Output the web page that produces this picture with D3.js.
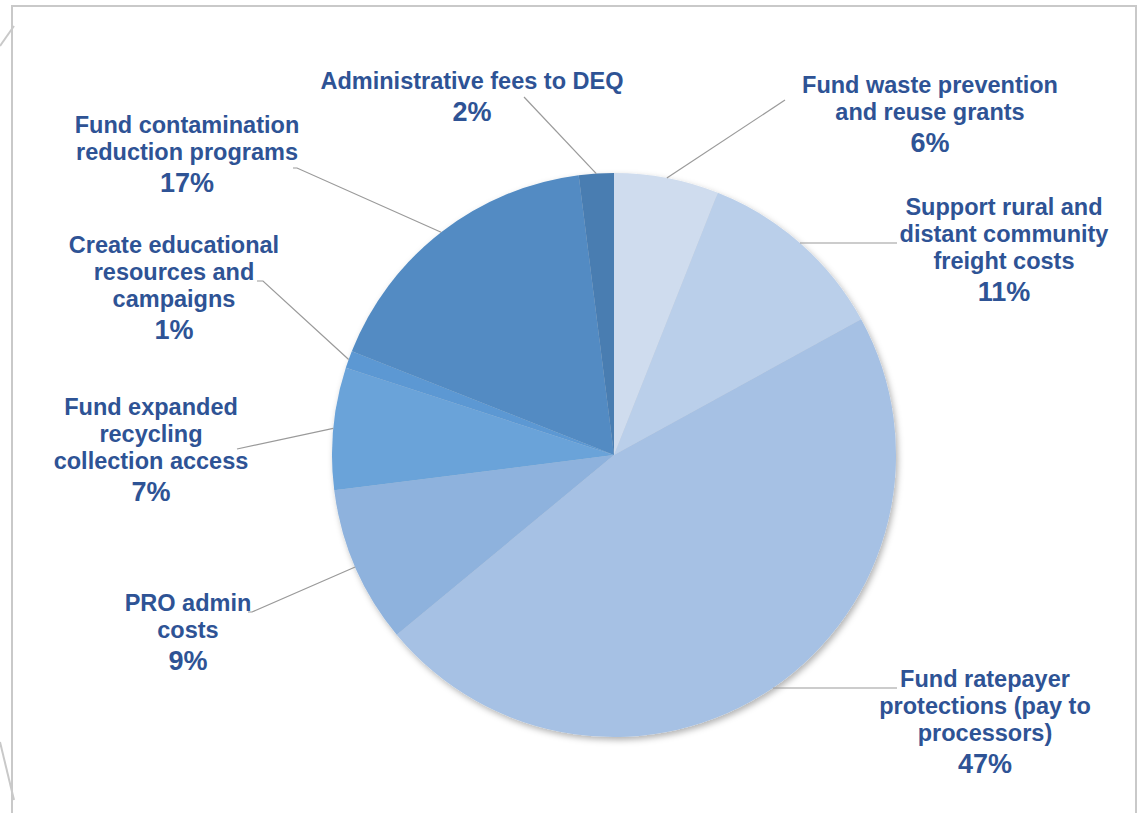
<!DOCTYPE html>
<html>
<head>
<meta charset="utf-8">
<script src="https://cdn.jsdelivr.net/npm/d3@7"></script>
<style>
  html, body { margin: 0; padding: 0; background: #ffffff; }
  #svg-container { width: 1138px; height: 813px; }
  text { font-family: "Liberation Sans", Arial, sans-serif; font-weight: bold; }
</style>
</head>
<body>
<div id="svg-container"></div>
<script>
////////////////////////////////////////////////////////////////////
////////////////////////////  Data  ////////////////////////////////

const categories = [
  "Fund waste prevention and reuse grants",
  "Support rural and distant community freight costs",
  "Fund ratepayer protections (pay to processors)",
  "PRO admin costs",
  "Fund expanded recycling collection access",
  "Create educational resources and campaigns",
  "Fund contamination reduction programs",
  "Administrative fees to DEQ",
];
const values = [6, 11, 47, 9, 7, 1, 17, 2];

// label lines as they are broken on the chart
const labelLines = [
  ["Fund waste prevention", "and reuse grants"],
  ["Support rural and", "distant community", "freight costs"],
  ["Fund ratepayer", "protections (pay to", "processors)"],
  ["PRO admin", "costs"],
  ["Fund expanded", "recycling", "collection access"],
  ["Create educational", "resources and", "campaigns"],
  ["Fund contamination", "reduction programs"],
  ["Administrative fees to DEQ"],
];

const colors = ["#cfdcee", "#bacfea", "#a6c1e4", "#8eb2dd", "#6ba3d9", "#5b98d3", "#528bc3", "#4a7db1"];

////////////////////////////////////////////////////////////////////
////////////////////////////  Layout  //////////////////////////////

const width = 1138;
const height = 813;
const cx = 614, cy = 455, radius = 282;
const textColor = "#2e5395";
const lineH = 27;

// label position: text center x, first baseline y, leader end [x,y], optional angle of leader start
const labelLayout = [
  { x: 930, y: 93, end: [785, 100] },
  { x: 1004, y: 215, end: [897, 243], startY: 243 },
  { x: 985, y: 687, end: [897, 688], startY: 688 },
  { x: 188, y: 611, end: [252, 612], tick: -4 },
  { x: 151, y: 415, end: [237, 449] },
  { x: 174, y: 253, end: [263, 281], tick: -6 },
  { x: 187, y: 133, end: [297, 168], tick: -4 },
  { x: 472, y: 89, end: [524, 97] },
];

////////////////////////////////////////////////////////////////////
////////////////////////////  Init  ////////////////////////////////

const svg = d3
  .select("#svg-container")
  .append("svg")
  .attr("width", width)
  .attr("height", height);

// shadow under the pie
const defs = svg.append("defs");
defs
  .append("filter")
  .attr("id", "shadow")
  .attr("x", "-10%")
  .attr("y", "-10%")
  .attr("width", "120%")
  .attr("height", "120%")
  .append("feDropShadow")
  .attr("dx", 2)
  .attr("dy", 3)
  .attr("stdDeviation", 3)
  .attr("flood-color", "#000")
  .attr("flood-opacity", 0.3);

// slide frame fragments
const frame = svg.append("g").attr("stroke", "#c9c9c9").attr("stroke-width", 2).attr("fill", "none");
frame.append("path").attr("d", "M12,813 L12,6 L1136,6 L1136,813");
frame.append("line").attr("x1", 14).attr("y1", 26).attr("x2", 0).attr("y2", 46);
frame.append("line").attr("x1", 0).attr("y1", 742).attr("x2", 14).attr("y2", 800);

// pie
const pie = d3.pie().sort(null).value((d) => d);
const arcs = pie(values);

const arc = d3.arc().innerRadius(0).outerRadius(radius);

const g = svg.append("g").attr("transform", `translate(${cx}, ${cy})`);

// leader lines (drawn below the pie)
const leaders = svg.append("g").attr("stroke", "#9a9a9a").attr("stroke-width", 1.2).attr("fill", "none");

arcs.forEach((a, i) => {
  const lay = labelLayout[i];
  let ang = (a.startAngle + a.endAngle) / 2;
  let sx = cx + radius * Math.sin(ang);
  let sy = cy - radius * Math.cos(ang);
  if (lay.startY !== undefined) {
    // point on the rim at the given height, on the slice side
    const dy = lay.startY - cy;
    const dx = Math.sqrt(radius * radius - dy * dy);
    sx = cx + (Math.sin(ang) >= 0 ? dx : -dx);
    sy = lay.startY;
  }
  let d = `M${sx},${sy} L${lay.end[0]},${lay.end[1]}`;
  if (lay.tick) d += ` l${lay.tick},0`;
  leaders.append("path").attr("d", d);
});

g.append("g")
  .attr("filter", "url(#shadow)")
  .selectAll("path")
  .data(arcs)
  .join("path")
  .attr("d", arc)
  .attr("fill", (d, i) => colors[i]);

// labels
const labels = svg
  .append("g")
  .selectAll("text")
  .data(arcs)
  .join("text")
  .attr("text-anchor", "middle")
  .attr("fill", textColor)
  .attr("x", (d, i) => labelLayout[i].x)
  .attr("y", (d, i) => labelLayout[i].y);

labels.each(function (d, i) {
  const t = d3.select(this);
  const lines = labelLines[i];
  lines.forEach((ln, j) => {
    t.append("tspan")
      .attr("x", labelLayout[i].x)
      .attr("y", labelLayout[i].y + j * lineH)
      .attr("font-size", "23.5px")
      .text(ln);
  });
  t.append("tspan")
    .attr("x", labelLayout[i].x)
    .attr("y", labelLayout[i].y + (lines.length - 1) * lineH + 32)
    .attr("font-size", "27px")
    .text(d3.format(".0%")(d.data / d3.sum(values)));
});
</script>
</body>
</html>
